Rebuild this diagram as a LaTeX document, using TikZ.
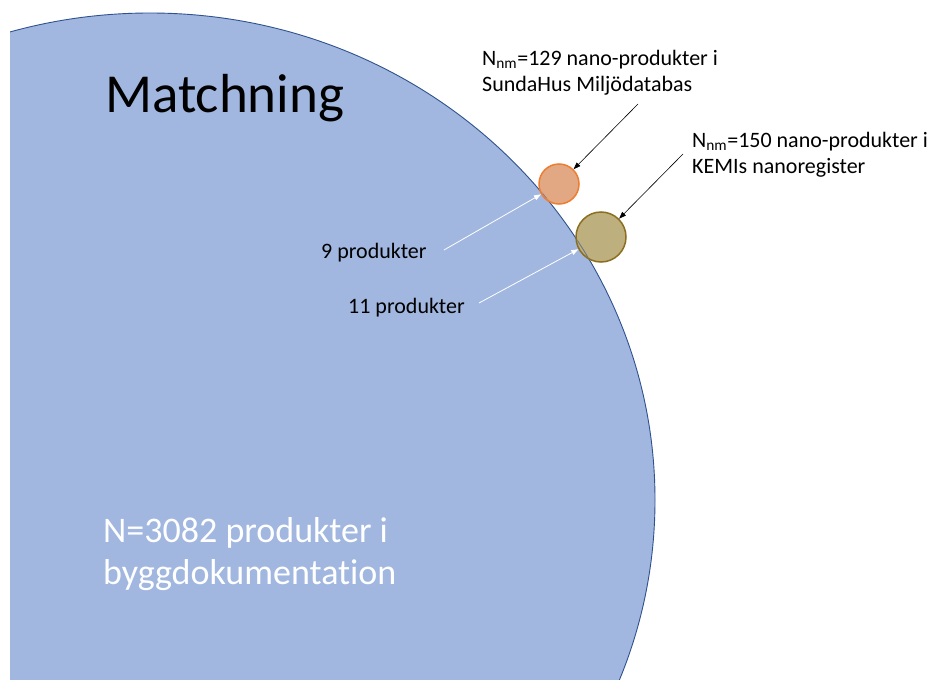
\documentclass[tikz,border=0pt]{standalone}
\usepackage{fontspec}
\setmainfont{Carlito}[Ligatures={NoCommon}]
\usetikzlibrary{arrows.meta}
\definecolor{bigfill}{RGB}{161,183,224}
\definecolor{bigline}{RGB}{47,82,143}
\definecolor{orfill}{RGB}{226,168,131}
\definecolor{orline}{RGB}{237,125,49}
\definecolor{olfill}{RGB}{190,175,126}
\definecolor{olline}{RGB}{140,110,30}
\tikzset{
  lbl/.style={anchor=base west,inner sep=0pt,align=left},
  callout/.style={draw=black,line width=0.6pt,-{Triangle[length=7pt,width=5pt]}},
  wcallout/.style={draw=white,line width=0.8pt,-{Triangle[length=7pt,width=5pt]}},
  smallcirc/.style={circle,inner sep=0pt,line width=1.5pt}
}
\begin{document}
\begin{tikzpicture}[x=1pt,y=-1pt]
\useasboundingbox (0,0) rectangle (940,680);
\fill[white] (0,0) rectangle (940,680);
\begin{scope}
  \clip (10,0) rectangle (940,680);
  \fill[bigfill] (150,500) ellipse [x radius=505pt, y radius=487pt];
  \draw[bigline,line width=0.9pt] (150,500) ellipse [x radius=505pt, y radius=487pt];
\end{scope}
\node[smallcirc,draw=orline,fill=orfill,minimum size=40pt] (c129) at (559,184) {};
\node[smallcirc,draw=olline,fill=olfill,minimum size=50pt] (c150) at (601,237) {};
\begin{scope}
  \clip (559,184) circle (19pt) (601,237) circle (24pt);
  \draw[bigline,opacity=0.6,line width=0.9pt] (150,500) ellipse [x radius=505pt, y radius=487pt];
\end{scope}
\node[lbl,font=\fontsize{55}{60}\selectfont] (match) at (105,112) {Matchning};
\node[lbl,text=white,font=\fontsize{36}{42}\selectfont] (ntot) at (103,584) {N=3082 produkter i\\byggdokumentation};
\node[lbl,font=\fontsize{22}{26}\selectfont] (l129) at (482,91) {N\textsubscript{nm}=129 nano-produkter i\\SundaHus Miljödatabas};
\node[lbl,font=\fontsize{22}{26}\selectfont] (l150) at (692,173) {N\textsubscript{nm}=150 nano-produkter i\\KEMIs nanoregister};
\node[lbl,font=\fontsize{22}{26}\selectfont] (p9) at (321,258) {9 produkter};
\node[lbl,font=\fontsize{22}{26}\selectfont] (p11) at (348,313) {11 produkter};
\coordinate (a129) at (638,104);
\coordinate (a150) at (683,154);
\coordinate (w9) at (444,250);
\coordinate (w11) at (479,303);
\draw[callout] (a129) -- (c129);
\draw[callout] (a150) -- (c150);
\draw[wcallout] (w9) -- (c129);
\draw[wcallout] (w11) -- (c150);
\end{tikzpicture}
\end{document}
